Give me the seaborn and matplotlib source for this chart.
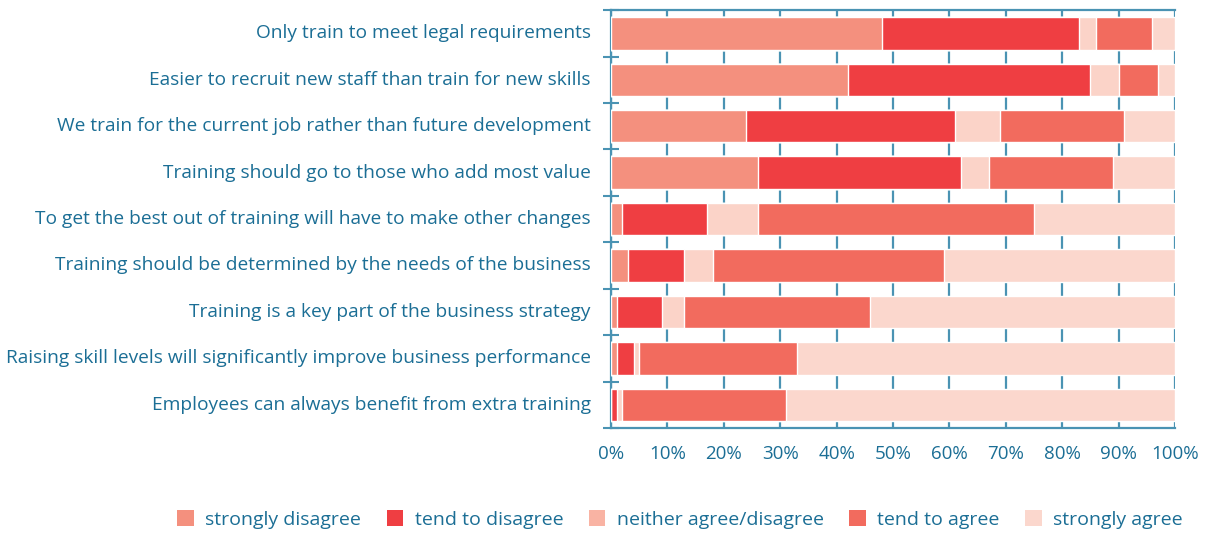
import numpy as np
import pandas as pd
import matplotlib
matplotlib.use("Agg")
import matplotlib.pyplot as plt
from matplotlib.patches import Patch
import seaborn as sns

categories = [
    "Only train to meet legal requirements",
    "Easier to recruit new staff than train for new skills",
    "We train for the current job rather than future development",
    "Training should go to those who add most value",
    "To get the best out of training will have to make other changes",
    "Training should be determined by the needs of the business",
    "Training is a key part of the business strategy",
    "Raising skill levels will significantly improve business performance",
    "Employees can always benefit from extra training",
]
series_names = ["strongly disagree", "tend to disagree", "neither agree/disagree",
                "tend to agree", "strongly agree"]
strongly_disagree = [48, 42, 24, 26, 2, 3, 1, 1, 0]
tend_to_disagree = [35, 43, 37, 36, 15, 10, 8, 3, 1]
neither = [3, 5, 8, 5, 9, 5, 4, 1, 1]
tend_to_agree = [10, 7, 22, 22, 49, 41, 33, 28, 29]
strongly_agree = [4, 3, 9, 11, 25, 41, 54, 67, 69]
xtick_labels = ["0%", "10%", "20%", "30%", "40%", "50%", "60%", "70%", "80%", "90%", "100%"]

colors = ["#F4907E", "#EF3E42", "#FBD3C8", "#F26B5E", "#FBD7CD"]
legend_colors = ["#F4907E", "#EF3E42", "#F9B3A3", "#F26B5E", "#FBD7CD"]
text_color = "#1B6E95"
grid_color = "#4A93B3"

sns.set_theme(style="white")
plt.rcParams['font.family'] = ['Open Sans', 'DejaVu Sans']

df = pd.DataFrame({"category": categories,
                   series_names[0]: strongly_disagree,
                   series_names[1]: tend_to_disagree,
                   series_names[2]: neither,
                   series_names[3]: tend_to_agree,
                   series_names[4]: strongly_agree})
cum = df[series_names].cumsum(axis=1)

fig = plt.figure(figsize=(12.10, 5.33), dpi=100)
ax = fig.add_axes([0.505, 0.197, 0.466, 0.784])

for i in range(len(series_names) - 1, -1, -1):
    sns.barplot(x=cum[series_names[i]], y=df["category"], orient="h",
                color=colors[i], saturation=1, width=0.70, ax=ax, zorder=3)

ax.set_xlim(0, 100)
ax.set_ylim(len(categories) - 0.5, -0.5)
ax.set_xticks(np.arange(0, 101, 10))
ax.set_xticklabels(xtick_labels, fontsize=13.5, color=text_color)
ax.tick_params(axis="x", length=0, pad=12)
ax.set_yticks(range(len(categories)))
ax.set_yticklabels(categories, fontsize=13.8, color=text_color, va="center")
ax.tick_params(axis="y", which="major", length=0, pad=14.5)
ax.set_yticks(np.arange(-0.5, len(categories), 1), minor=True)
ax.tick_params(axis="y", which="minor", direction="inout", length=11, width=1.5,
               color=grid_color, left=True)
ax.set_xlabel("")
ax.set_ylabel("")
ax.grid(axis="x", color=grid_color, linewidth=1.6, zorder=0)
ax.set_axisbelow(True)
for s in ["left", "bottom", "top"]:
    ax.spines[s].set_visible(True)
    ax.spines[s].set_color(grid_color)
    ax.spines[s].set_linewidth(1.6)
ax.spines["right"].set_visible(False)

handles = [Patch(facecolor=legend_colors[i], edgecolor="none", label=series_names[i])
           for i in range(len(series_names))]
fig.legend(handles=handles, loc="center", bbox_to_anchor=(0.562, 0.025), ncol=5,
           frameon=False, fontsize=14, handlelength=0.85, handleheight=0.85,
           handletextpad=0.6, columnspacing=1.3, labelcolor=text_color)

fig.savefig("out.png", dpi=100)
